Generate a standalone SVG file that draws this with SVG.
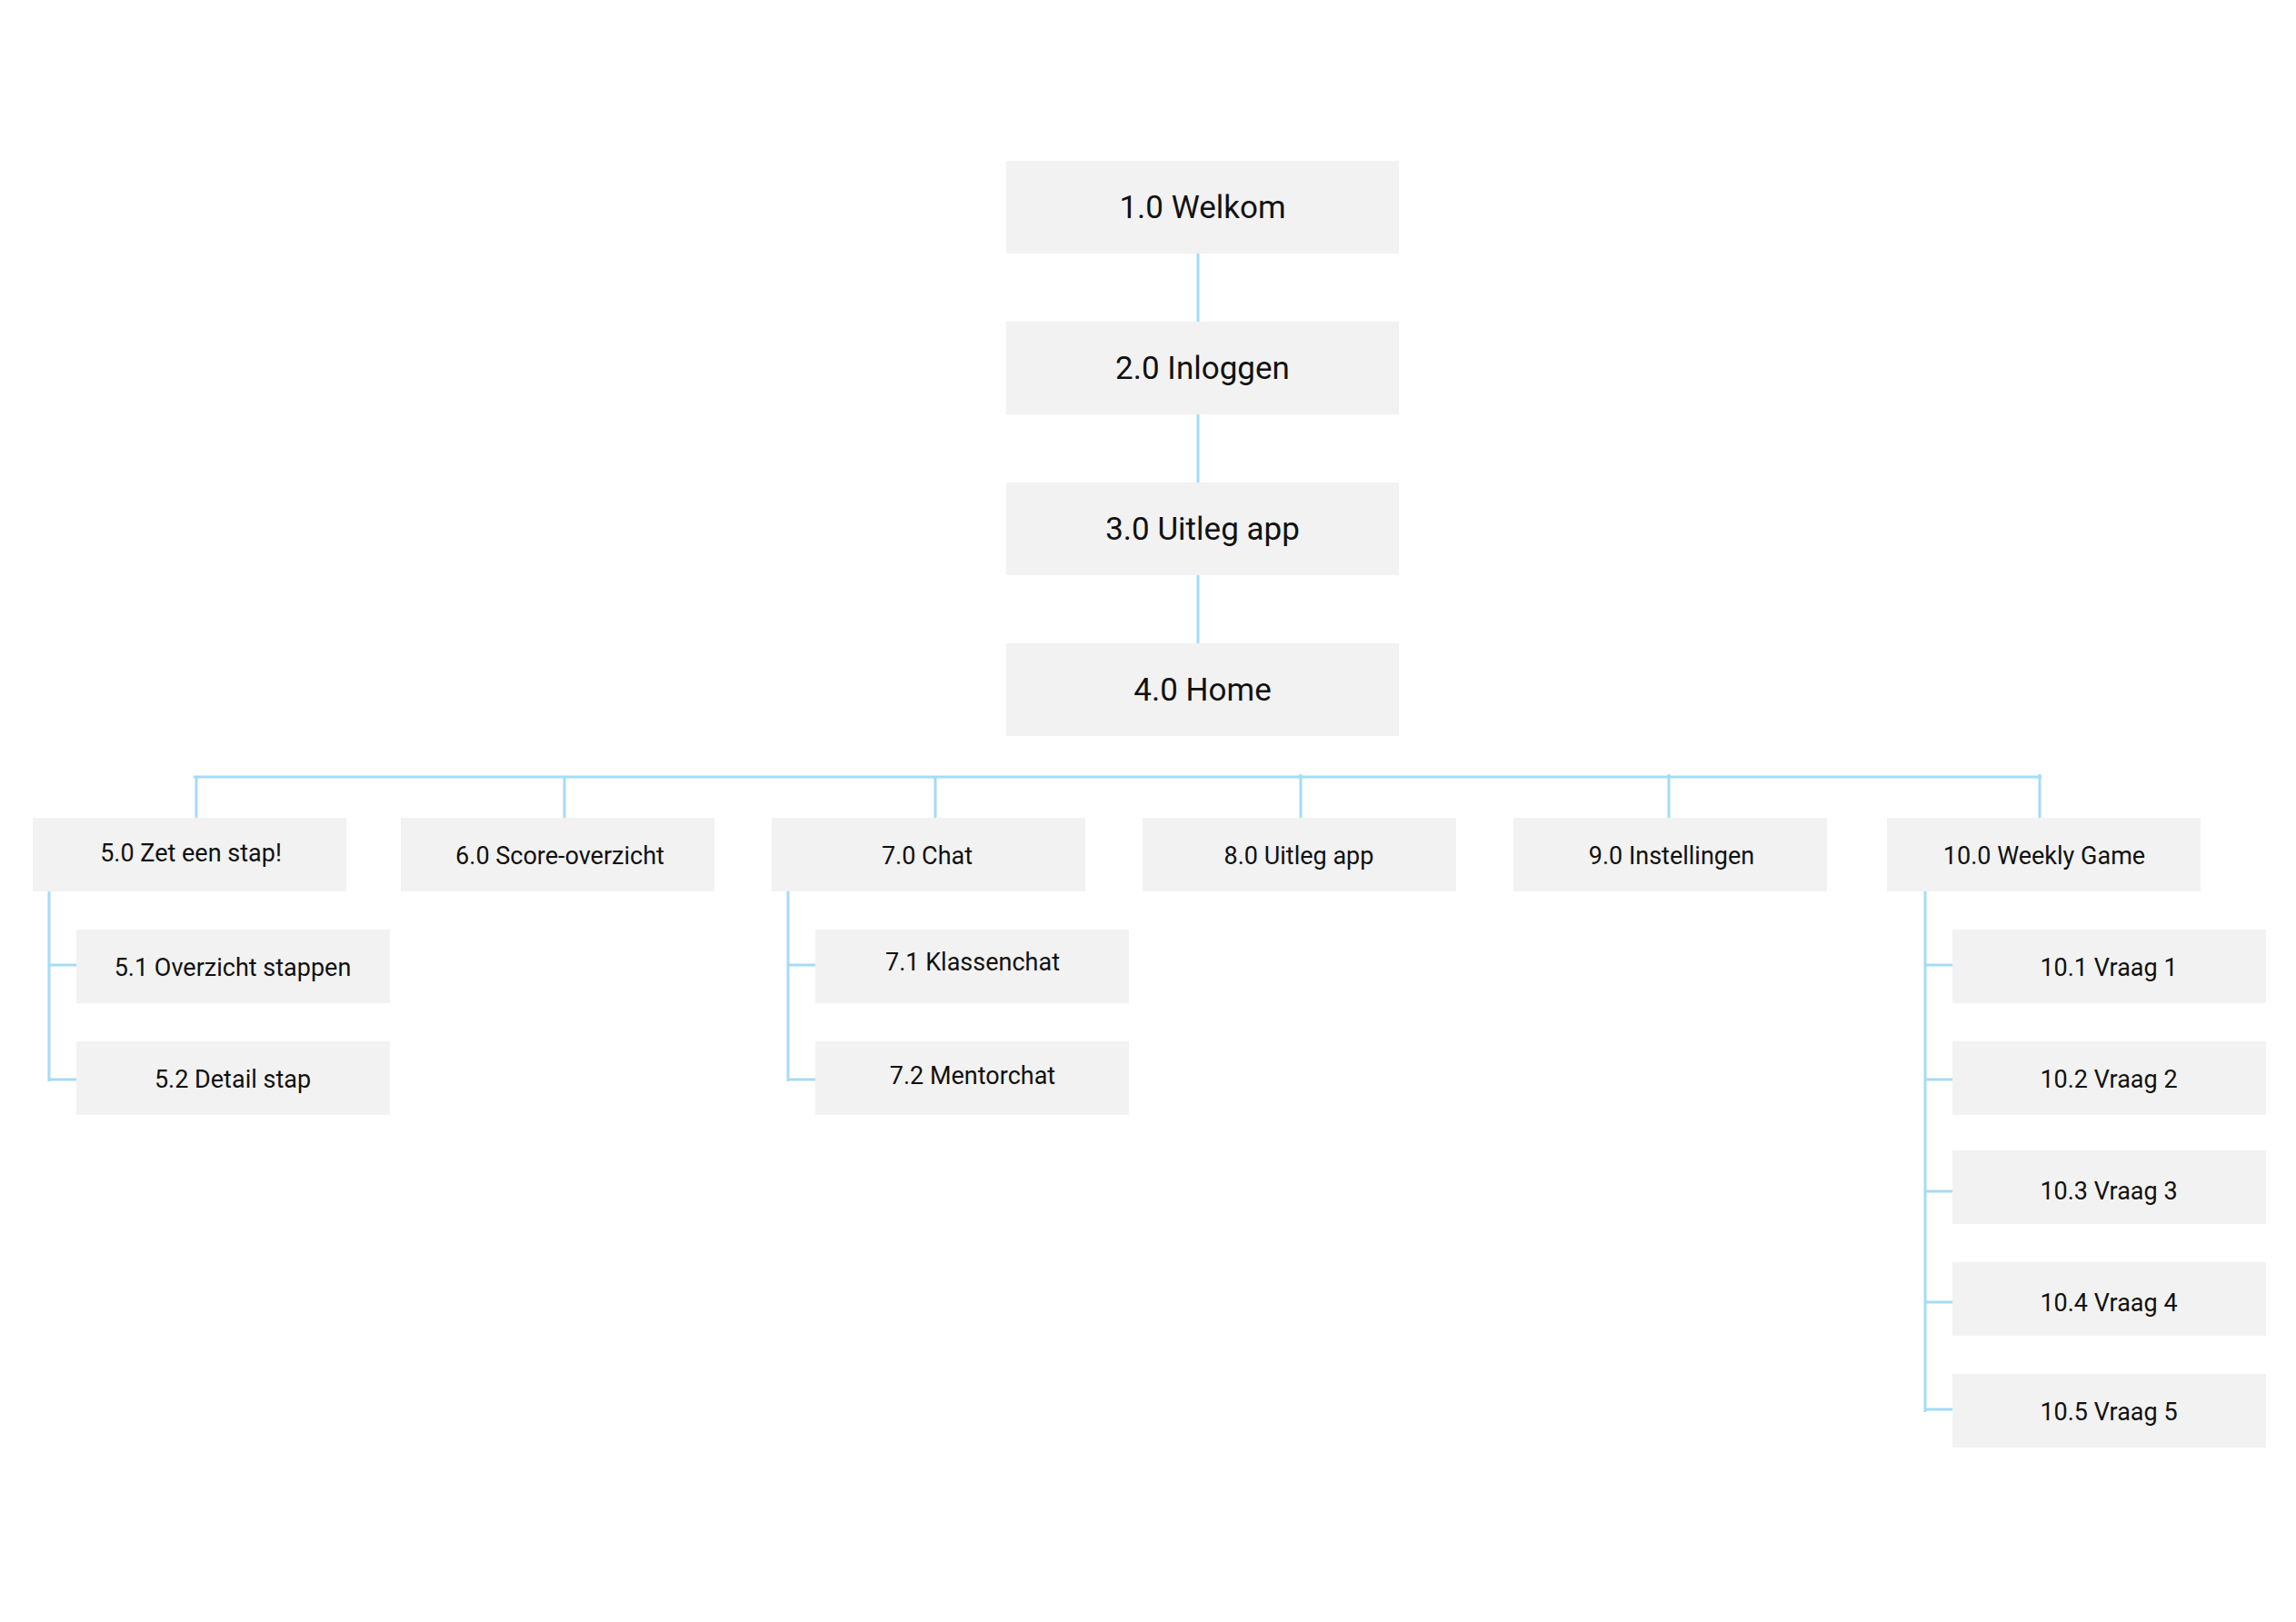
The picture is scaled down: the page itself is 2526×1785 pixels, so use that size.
<svg xmlns="http://www.w3.org/2000/svg" width="2526" height="1785" viewBox="0 0 2526 1785">
<style>
.box{fill:#f2f2f2}
.lg{font-family:Roboto,"Liberation Sans",sans-serif;font-size:35px;fill:#111;text-anchor:middle}
.sm{font-family:Roboto,"Liberation Sans",sans-serif;font-size:27px;fill:#111;text-anchor:middle}
.c{stroke:#a5dbf5;stroke-width:3;fill:none}
</style>
<rect width="2526" height="1785" fill="#fff"/>
<g id="connectors">
<line class="c" x1="1318" y1="279" x2="1318" y2="354"/>
<line class="c" x1="1318" y1="456" x2="1318" y2="531"/>
<line class="c" x1="1318" y1="633" x2="1318" y2="708"/>
<line class="c" x1="213" y1="855" x2="2246" y2="855"/>
<line class="c" x1="216" y1="855" x2="216" y2="900"/>
<line class="c" x1="621" y1="855" x2="621" y2="900"/>
<line class="c" x1="1029" y1="855" x2="1029" y2="900"/>
<line class="c" x1="1431" y1="852" x2="1431" y2="900"/>
<line class="c" x1="1836" y1="852" x2="1836" y2="900"/>
<line class="c" x1="2244" y1="852" x2="2244" y2="900"/>
<path class="c" d="M54 981V1190M54 1062H84M54 1188H84"/>
<path class="c" d="M867 981V1190M867 1062H897M867 1188H897"/>
<path class="c" d="M2118 981V1554M2118 1062H2148M2118 1188H2148M2118 1311H2148M2118 1433H2148M2118 1551H2148"/>
</g>
<g id="n1"><rect class="box" x="1107" y="177" width="432" height="102"/><text class="lg" x="1323" y="240">1.0 Welkom</text></g>
<g id="n2"><rect class="box" x="1107" y="354" width="432" height="102"/><text class="lg" x="1323" y="417">2.0 Inloggen</text></g>
<g id="n3"><rect class="box" x="1107" y="531" width="432" height="102"/><text class="lg" x="1323" y="594">3.0 Uitleg app</text></g>
<g id="n4"><rect class="box" x="1107" y="708" width="432" height="102"/><text class="lg" x="1323" y="771">4.0 Home</text></g>
<g id="n5"><rect class="box" x="36" y="900" width="345" height="81"/><text class="sm" x="210" y="948">5.0 Zet een stap!</text></g>
<g id="n6"><rect class="box" x="441" y="900" width="345" height="81"/><text class="sm" x="616" y="951">6.0 Score-overzicht</text></g>
<g id="n7"><rect class="box" x="849" y="900" width="345" height="81"/><text class="sm" x="1020" y="951">7.0 Chat</text></g>
<g id="n8"><rect class="box" x="1257" y="900" width="345" height="81"/><text class="sm" x="1429" y="951">8.0 Uitleg app</text></g>
<g id="n9"><rect class="box" x="1665" y="900" width="345" height="81"/><text class="sm" x="1839" y="951">9.0 Instellingen</text></g>
<g id="n10"><rect class="box" x="2076" y="900" width="345" height="81"/><text class="sm" x="2249" y="951">10.0 Weekly Game</text></g>
<g id="n5_1"><rect class="box" x="84" y="1023" width="345" height="81"/><text class="sm" x="256" y="1074">5.1 Overzicht stappen</text></g>
<g id="n5_2"><rect class="box" x="84" y="1146" width="345" height="81"/><text class="sm" x="256" y="1197">5.2 Detail stap</text></g>
<g id="n7_1"><rect class="box" x="897" y="1023" width="345" height="81"/><text class="sm" x="1070" y="1068">7.1 Klassenchat</text></g>
<g id="n7_2"><rect class="box" x="897" y="1146" width="345" height="81"/><text class="sm" x="1070" y="1193">7.2 Mentorchat</text></g>
<g id="n10_1"><rect class="box" x="2148" y="1023" width="345" height="81"/><text class="sm" x="2320" y="1074">10.1 Vraag 1</text></g>
<g id="n10_2"><rect class="box" x="2148" y="1146" width="345" height="81"/><text class="sm" x="2320" y="1197">10.2 Vraag 2</text></g>
<g id="n10_3"><rect class="box" x="2148" y="1266" width="345" height="81"/><text class="sm" x="2320" y="1320">10.3 Vraag 3</text></g>
<g id="n10_4"><rect class="box" x="2148" y="1389" width="345" height="81"/><text class="sm" x="2320" y="1443">10.4 Vraag 4</text></g>
<g id="n10_5"><rect class="box" x="2148" y="1512" width="345" height="81"/><text class="sm" x="2320" y="1563">10.5 Vraag 5</text></g>
</svg>
